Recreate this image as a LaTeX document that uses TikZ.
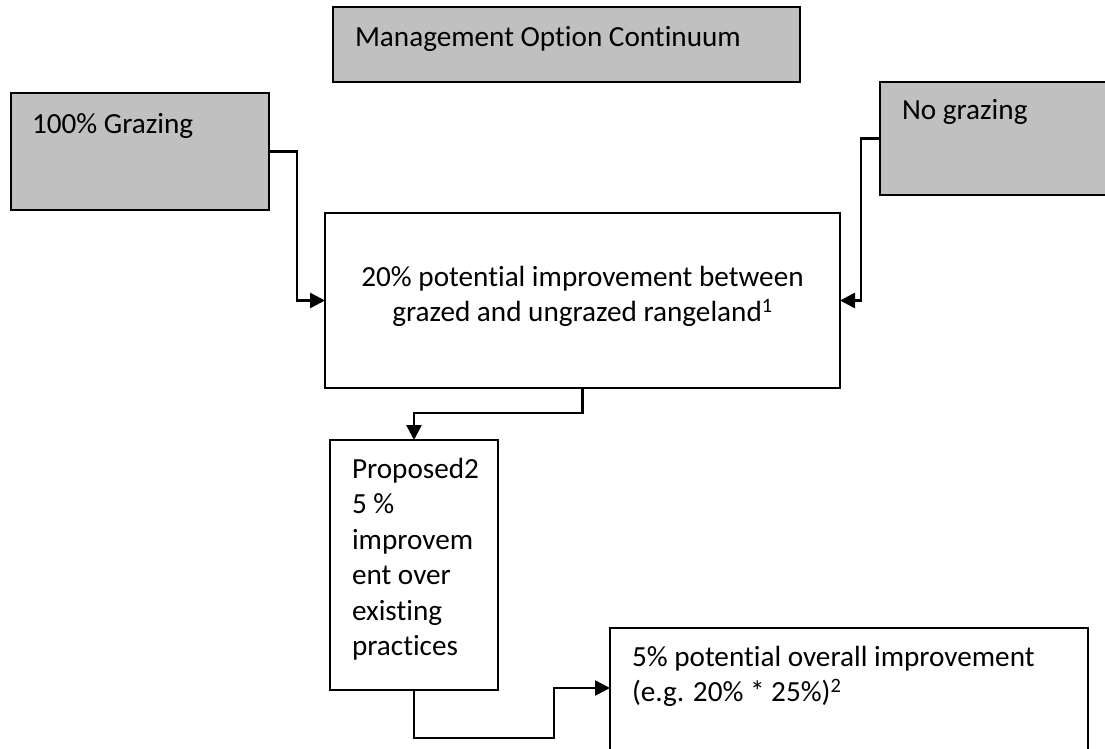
\documentclass[tikz,border=0pt]{standalone}
\usepackage{fontspec}
\setmainfont{Carlito}[Ligatures=NoCommon]
\usetikzlibrary{arrows.meta}
\definecolor{boxgray}{HTML}{C0C0C0}
\tikzset{
  gbox/.style={draw=black, line width=1.5pt, fill=boxgray, rectangle, inner sep=0pt, outer sep=0pt, anchor=north west},
  wbox/.style={draw=black, line width=1.5pt, fill=white, rectangle, inner sep=0pt, outer sep=0pt, anchor=north west},
  txt/.style={inner sep=0pt, outer sep=0pt, font=\fontsize{29.2pt}{35.5pt}\selectfont},
  conn/.style={draw=black, line width=2.6pt, -{Triangle[length=15pt,width=15pt]}},
}
\begin{document}
\begin{tikzpicture}[x=1pt,y=-1pt]
\useasboundingbox (0,0) rectangle (1105,749);
% boxes
\node[gbox, minimum width=467pt, minimum height=75pt] (mgmt) at (333,7) {};
\node[gbox, minimum width=258pt, minimum height=117pt] (graz) at (11,93) {};
\node[gbox, minimum width=240pt, minimum height=113pt] (nograz) at (880,82) {};
\node[wbox, minimum width=515pt, minimum height=175pt] (main) at (325,213) {};
\node[wbox, minimum width=168pt, minimum height=250pt] (prop) at (330,440) {};
\node[wbox, minimum width=478pt, minimum height=140pt] (res) at (610,628) {};
% texts (base anchor of a multi-line node is the baseline of its last line)
\node[txt, anchor=base west] (mgmtT) at (355,47) {Management Option Continuum};
\node[txt, anchor=base west] (grazT) at (32,133) {100\% Grazing};
\node[txt, anchor=base west] (nograzT) at (902,120) {No grazing};
\node[txt, anchor=base, align=center] (mainT) at (582.5,321.5) {20\% potential improvement between\\grazed and ungrazed rangeland\textsuperscript{1}};
\node[txt, anchor=base west, align=left] (propT) at (352,655.5) {Proposed2\\5 \%\\improvem\\ent over\\existing\\practices};
\node[txt, anchor=base west, align=left] (resT) at (632,701.5) {5\% potential overall improvement\\(e.g. 20\% * 25\%)\textsuperscript{2}};
% connectors
\draw[conn] (graz.east) -- ++(28pt,0) |- (main.west);
\draw[conn] (nograz.west) -- ++(-19pt,0) |- (main.east);
\draw[conn] (main.south) -- ++(0,-25pt) -| (prop.north);
\draw[conn] (prop.south) -- ++(0,-48pt) -| ([shift={(-56pt,-60pt)}]res.north west) -- ([yshift=-60pt]res.north west);
\end{tikzpicture}
\end{document}
